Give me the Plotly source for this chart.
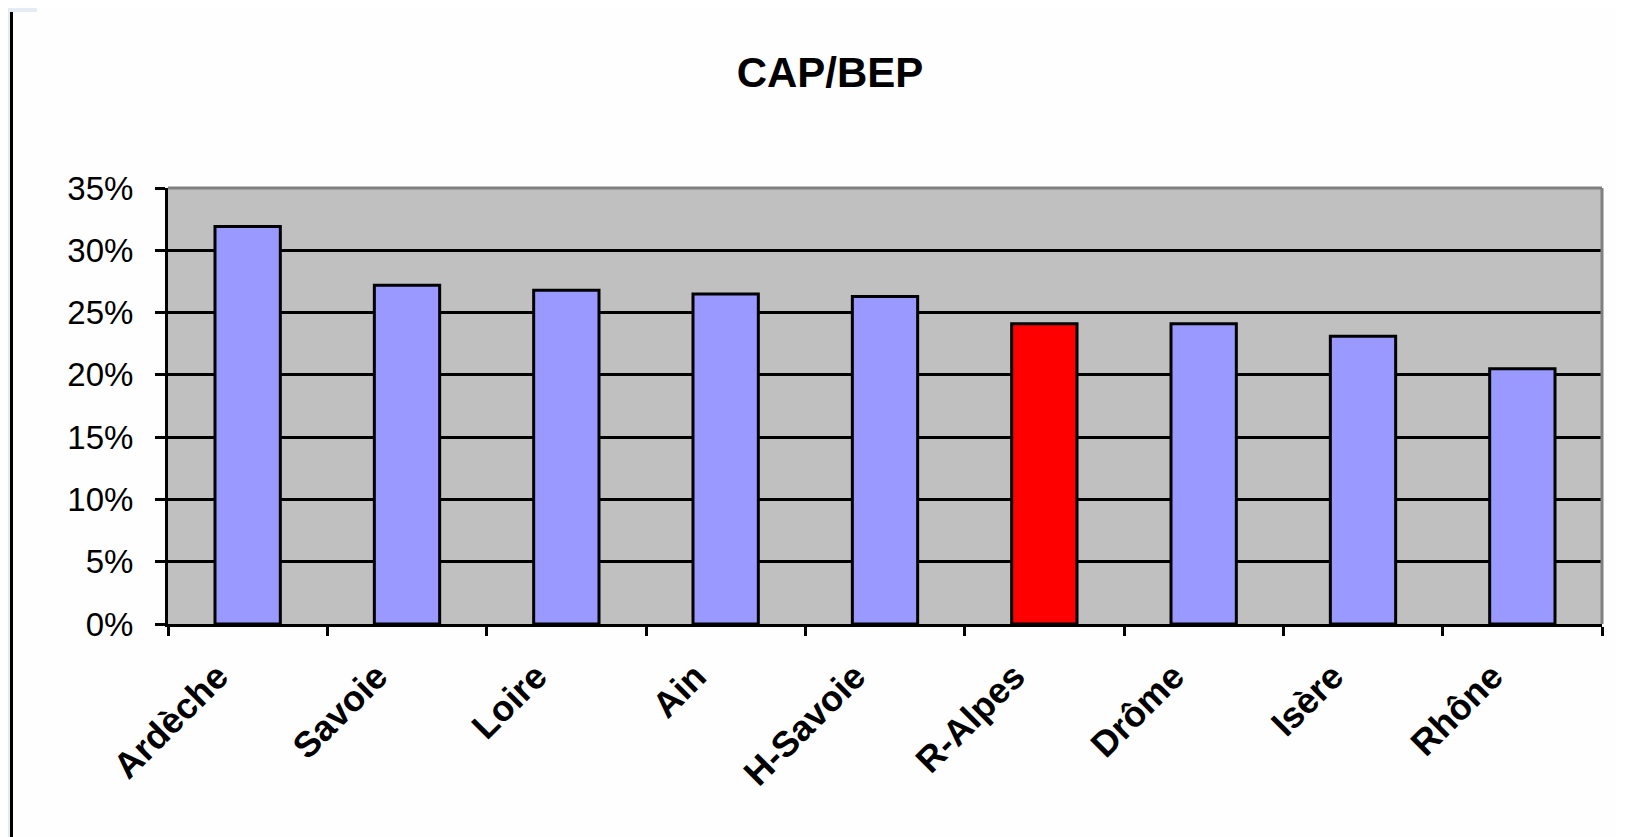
import plotly.graph_objects as go

# data
departements = ["Ardèche", "Savoie", "Loire", "Ain", "H-Savoie", "R-Alpes", "Drôme", "Isère", "Rhône"]
part_cap_bep = [0.319, 0.272, 0.268, 0.265, 0.263, 0.241, 0.241, 0.231, 0.205]
highlight = "R-Alpes"
y_ticks = [0, 0.05, 0.10, 0.15, 0.20, 0.25, 0.30, 0.35]

# page body has an 8px margin, so the figure is drawn from (8, 8)
W, H = 1617, 829
L, R, T, B = 160, 23, 180, 213
PW, PH = W - L - R, H - T - B
_FONT = "Liberation Sans, Arial, sans-serif"


def px_x(x):
    return (x - L) / PW


def px_y(y):
    return (H - B - y) / PH


colors = ["#FF0000" if d == highlight else "#9999FF" for d in departements]

fig = go.Figure(
    go.Bar(
        x=departements,
        y=part_cap_bep,
        marker=dict(color=colors, line=dict(color="black", width=3)),
        width=0.41,
    )
)

fig.update_layout(
    width=W,
    height=H,
    font_family=_FONT,
    paper_bgcolor="#FEFEFE",
    plot_bgcolor="#C0C0C0",
    margin=dict(l=L, r=R, t=T, b=B, autoexpand=False),
    showlegend=False,
    title=dict(
        text="<b>CAP/BEP</b>",
        x=822 / W,
        xanchor="center",
        y=1 - 64 / H,
        yanchor="middle",
        font=dict(size=42, color="black"),
    ),
)

fig.update_xaxes(
    showgrid=False,
    showline=True,
    linecolor="black",
    linewidth=3,
    ticks="outside",
    tickson="boundaries",
    ticklen=9,
    tickwidth=3,
    tickcolor="black",
    tickangle=-45,
    ticklabelshift=-30,
    ticklabelstandoff=14,
    tickfont=dict(size=36, color="black", family=_FONT, weight="bold"),
)
fig.update_yaxes(
    range=[0, 0.35],
    tickvals=y_ticks,
    tickformat=".0%",
    showgrid=True,
    gridcolor="black",
    gridwidth=3,
    zeroline=False,
    showline=True,
    linecolor="black",
    linewidth=3,
    ticks="outside",
    ticklen=10,
    tickwidth=3,
    tickcolor="black",
    ticklabelstandoff=15,
    tickfont=dict(size=33, color="black"),
)

# grey top / right frame of the plot area
fig.add_shape(type="line", xref="paper", yref="paper", x0=0, x1=1, y0=1, y1=1,
              line=dict(color="#808080", width=3))
fig.add_shape(type="line", xref="paper", yref="paper", x0=1, x1=1, y0=0, y1=1,
              line=dict(color="#808080", width=3))

# window chrome at the left edge of the screenshot
fig.add_shape(type="rect", xref="paper", yref="paper",
              x0=px_x(-8), x1=px_x(2), y0=px_y(H), y1=px_y(-8),
              line=dict(width=0), fillcolor="#E4EBF4", layer="above")
fig.add_shape(type="rect", xref="paper", yref="paper",
              x0=px_x(-8), x1=px_x(29), y0=px_y(4), y1=px_y(-8),
              line=dict(width=0), fillcolor="#E4EBF4", layer="above")
fig.add_shape(type="line", xref="paper", yref="paper",
              x0=px_x(3.5), x1=px_x(3.5), y0=px_y(H), y1=px_y(4),
              line=dict(color="black", width=3), layer="above")

fig.write_html("out.html")
